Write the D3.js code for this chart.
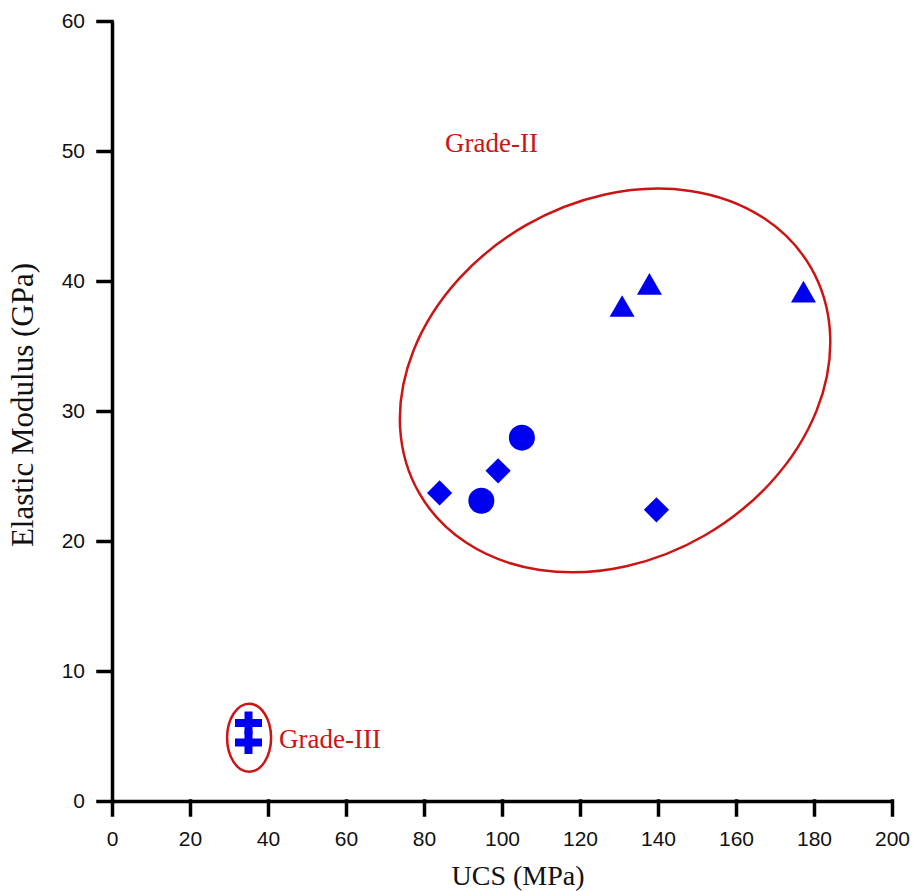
<!DOCTYPE html>
<html>
<head>
<meta charset="utf-8">
<script src="https://cdn.jsdelivr.net/npm/d3@7"></script>
<style>
  body { margin: 0; background: #fff; }
  .axis text { font-family: "Liberation Sans", Arial, sans-serif; font-size: 21px; fill: #111; }
  .axis path, .axis line { stroke: #000; stroke-width: 3.5px; }
  .title { font-family: "Liberation Serif", "Times New Roman", serif; font-size: 28px; fill: #111; }
  .grade { font-family: "Liberation Serif", "Times New Roman", serif; font-size: 27px; fill: #cc1414; }
</style>
</head>
<body>
<div id="chart"></div>
<script>
// UCS (MPa) vs Elastic Modulus (GPa)
var circleUcs = [105.1, 94.7];
var circleE = [27.95, 23.1];
var diamondUcs = [84.0, 99.0, 139.6];
var diamondE = [23.7, 25.4, 22.4];
var triangleUcs = [130.8, 137.8, 177.3];
var triangleE = [37.8, 39.5, 38.9];
var crossUcs = [35.0, 35.0];
var crossE = [6.0, 4.5];

var xTicks = [0, 20, 40, 60, 80, 100, 120, 140, 160, 180, 200];
var yTicks = [0, 10, 20, 30, 40, 50, 60];

// grade zones (centre in data units)
var zoneNames = ["Grade-II", "Grade-III"];
var zoneUcs = [129.0, 35.15];
var zoneE = [32.35, 4.86];

var width = 914, height = 891;
var margin = { left: 112, right: 22, top: 21, bottom: 90 };

var svg = d3.select("#chart").append("svg")
    .attr("width", width)
    .attr("height", height);

var xScale = d3.scaleLinear()
    .domain([0, 200])
    .range([margin.left, width - margin.right]);
var yScale = d3.scaleLinear()
    .domain([0, 60])
    .range([height - margin.bottom, margin.top]);

// axes
var xAxis = d3.axisBottom(xScale)
    .tickValues(xTicks)
    .tickSizeInner(14)
    .tickSizeOuter(0)
    .tickPadding(16);
svg.append("g")
    .attr("class", "axis")
    .attr("transform", "translate(0," + yScale(0) + ")")
    .call(xAxis);

var yAxis = d3.axisLeft(yScale)
    .tickValues(yTicks)
    .tickSizeInner(14)
    .tickSizeOuter(0)
    .tickPadding(13);
svg.append("g")
    .attr("class", "axis")
    .attr("transform", "translate(" + xScale(0) + ",0)")
    .call(yAxis);

svg.selectAll(".axis .tick line").attr("stroke-linecap", "square");

// axis titles
svg.append("text")
    .attr("class", "title")
    .attr("x", 518)
    .attr("y", 885)
    .attr("text-anchor", "middle")
    .text("UCS (MPa)");

svg.append("text")
    .attr("class", "title")
    .style("font-size", "31px")
    .attr("transform", "translate(33,405) rotate(-90)")
    .attr("text-anchor", "middle")
    .text("Elastic Modulus (GPa)");

// zone ellipses
var red = "#cc1414";
svg.append("ellipse")
    .attr("cx", 0).attr("cy", 0)
    .attr("rx", 226).attr("ry", 179)
    .attr("transform", "translate(" + xScale(zoneUcs[0]) + "," + yScale(zoneE[0]) + ") rotate(-30)")
    .attr("fill", "none")
    .attr("stroke", red)
    .attr("stroke-width", 2.5);

svg.append("ellipse")
    .attr("cx", xScale(zoneUcs[1]))
    .attr("cy", yScale(zoneE[1]))
    .attr("rx", 22).attr("ry", 34)
    .attr("fill", "none")
    .attr("stroke", red)
    .attr("stroke-width", 2.5);

svg.append("text")
    .attr("class", "grade")
    .attr("x", 445).attr("y", 152)
    .text(zoneNames[0]);
svg.append("text")
    .attr("class", "grade")
    .attr("x", 279).attr("y", 748)
    .text(zoneNames[1]);

// markers
var blue = "#0000f0";
var pts = svg.append("g").attr("fill", blue);

function zip(xs, ys) {
    return xs.map(function (x, i) { return { x: x, y: ys[i] }; });
}

pts.selectAll(".circle")
    .data(zip(circleUcs, circleE))
    .enter().append("path")
    .attr("class", "circle")
    .attr("d", d3.symbol().type(d3.symbolCircle).size(Math.PI * 13 * 13))
    .attr("transform", function (d) { return "translate(" + xScale(d.x) + "," + yScale(d.y) + ")"; });

pts.selectAll(".diamond")
    .data(zip(diamondUcs, diamondE))
    .enter().append("path")
    .attr("class", "diamond")
    .attr("d", d3.symbol().type(d3.symbolSquare).size(17.8 * 17.8))
    .attr("transform", function (d) { return "translate(" + xScale(d.x) + "," + yScale(d.y) + ") rotate(45)"; });

pts.selectAll(".triangle")
    .data(zip(triangleUcs, triangleE))
    .enter().append("path")
    .attr("class", "triangle")
    .attr("d", d3.symbol().type(d3.symbolTriangle).size(Math.sqrt(3) / 4 * 25 * 25))
    .attr("transform", function (d) { return "translate(" + xScale(d.x) + "," + yScale(d.y) + ")"; });

// cross: 27 wide, 23 tall, arms 8 thick
function crossPath() {
    var w = 13.5, h = 11.5, t = 4;
    return "M" + -t + "," + -h + "H" + t + "V" + -t + "H" + w + "V" + t + "H" + t +
        "V" + h + "H" + -t + "V" + t + "H" + -w + "V" + -t + "H" + -t + "Z";
}
pts.selectAll(".cross")
    .data(zip(crossUcs, crossE))
    .enter().append("path")
    .attr("class", "cross")
    .attr("d", crossPath())
    .attr("transform", function (d) { return "translate(" + xScale(d.x) + "," + yScale(d.y) + ")"; });
</script>
</body>
</html>
